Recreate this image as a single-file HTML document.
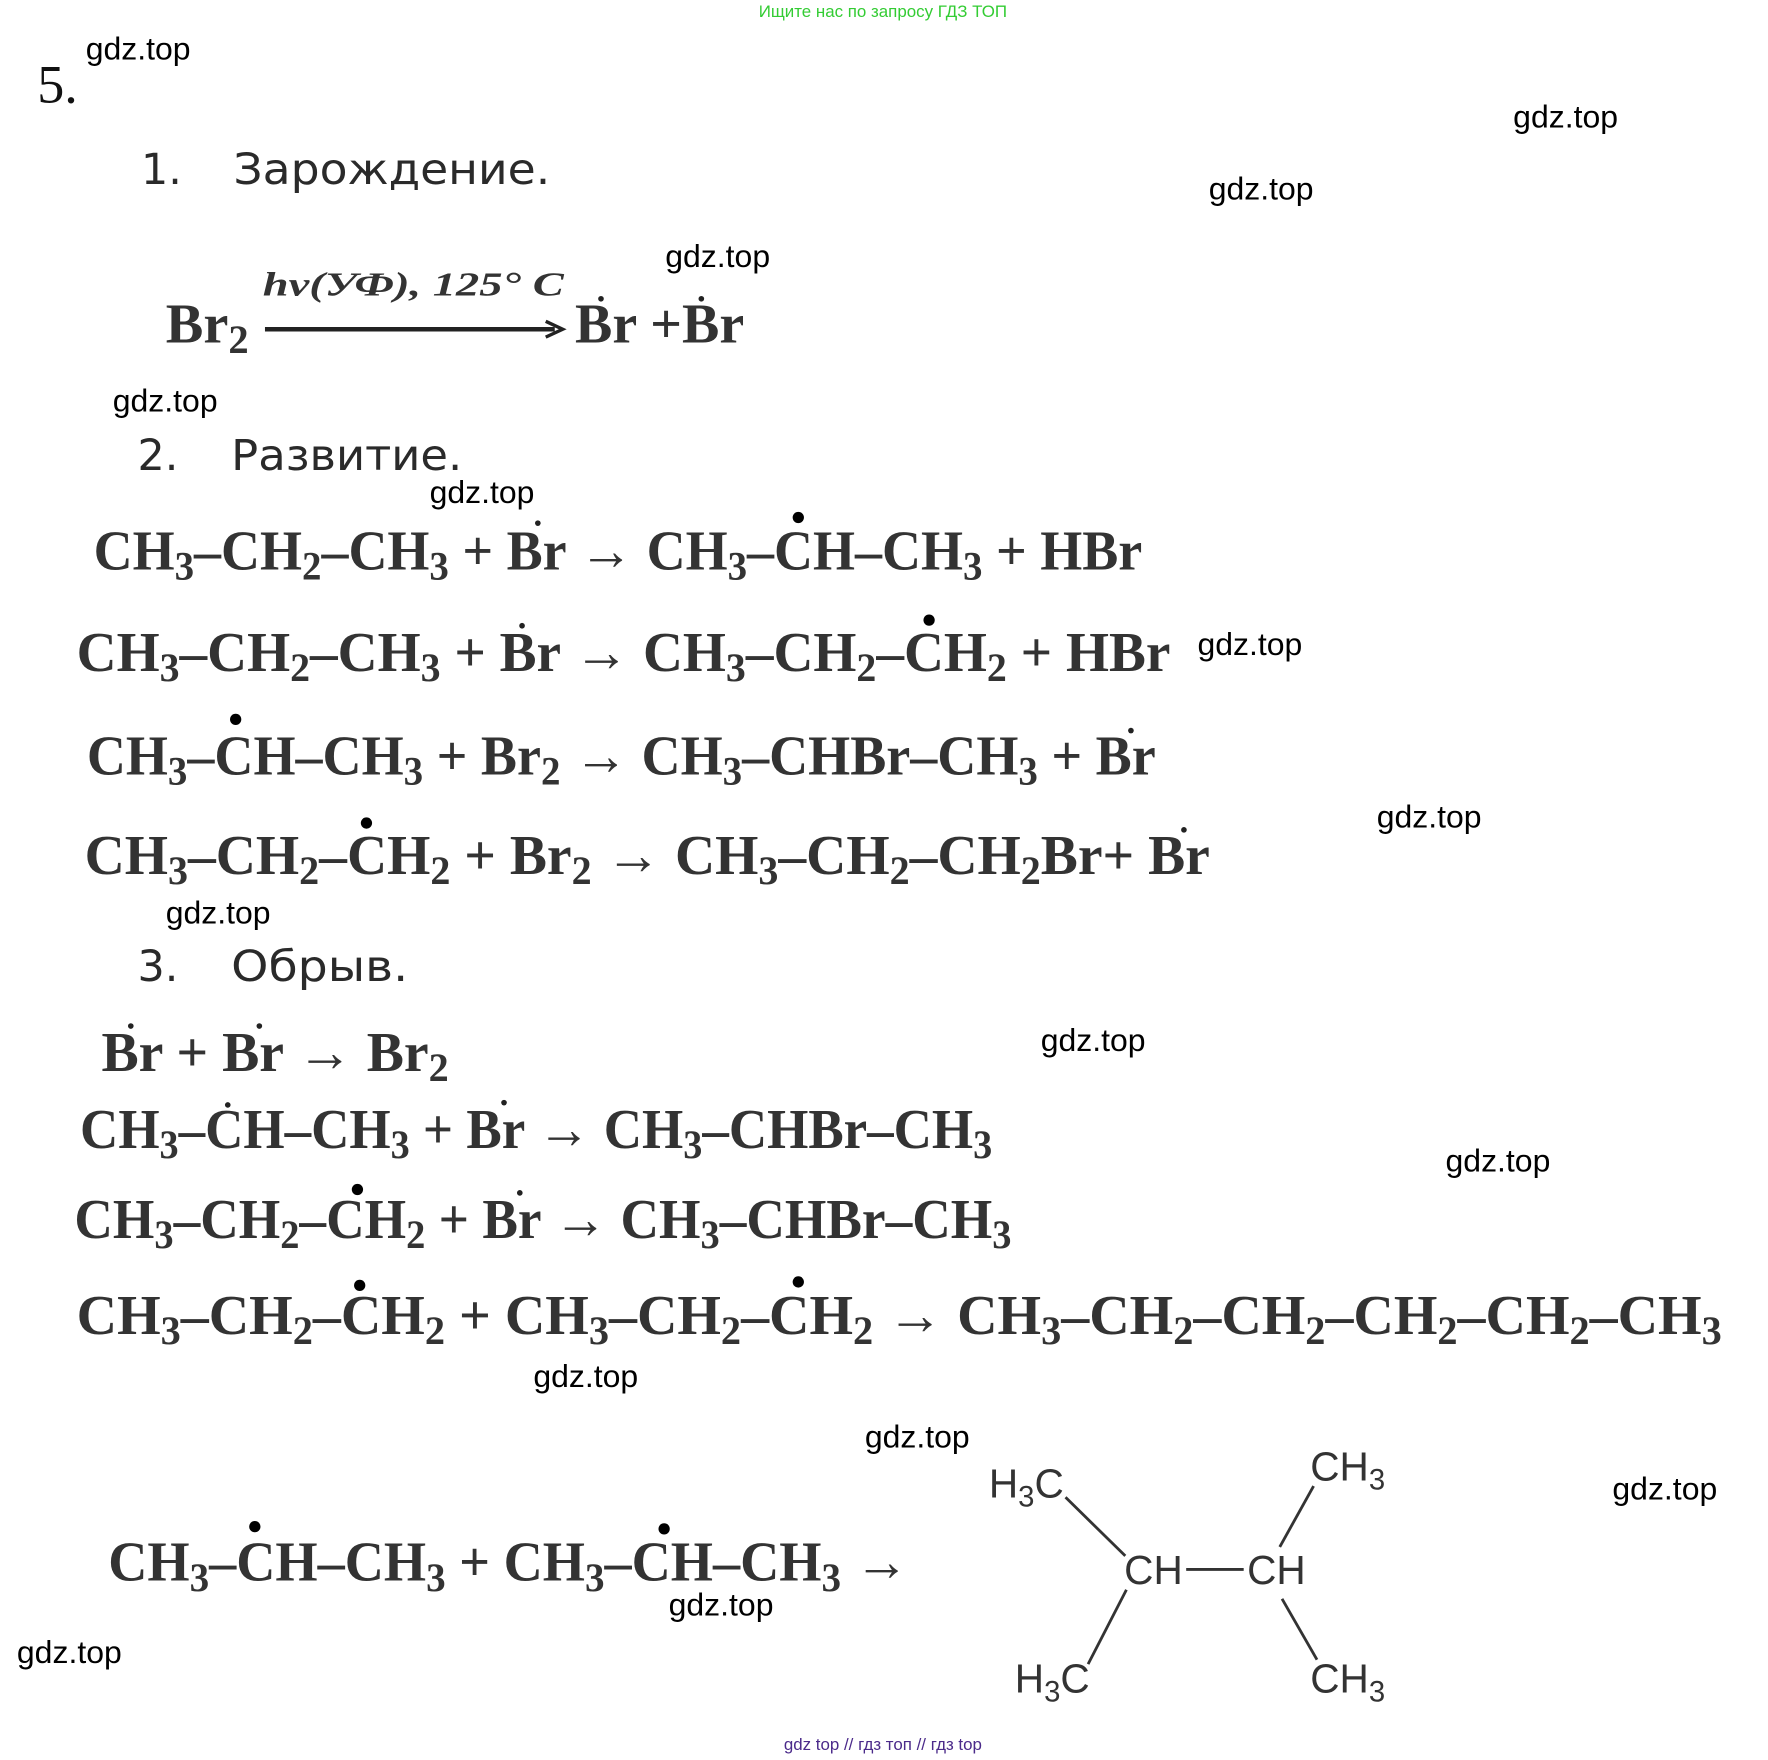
<!DOCTYPE html>
<html><head><meta charset="utf-8"><style>
html,body{margin:0;padding:0;background:#fff;}
svg{display:block;}
.f{font-family:"Liberation Serif",serif;font-size:50px;fill:#333;font-weight:bold;}
.g{font-family:"Liberation Sans",sans-serif;font-size:28px;fill:#000;}
.h{font-family:"DejaVu Sans","Liberation Sans",sans-serif;font-size:38px;fill:#2a2a2a;}
.s{font-family:"Liberation Sans",sans-serif;font-size:36px;fill:#333;}
</style></head><body>
<svg width="1768" height="1760" viewBox="0 0 1568 1561" preserveAspectRatio="none" xmlns="http://www.w3.org/2000/svg">
<text x="783" y="15" text-anchor="middle" font-family="Liberation Sans,sans-serif" font-size="15" fill="#33cc33">Ищите нас по запросу ГДЗ ТОП</text>
<text x="33" y="91" font-family="Liberation Serif,serif" font-size="48" fill="#111">5.</text>

<g class="g">
<text x="76" y="53" textLength="93" lengthAdjust="spacingAndGlyphs">gdz.top</text>
<text x="1342" y="113" textLength="93" lengthAdjust="spacingAndGlyphs">gdz.top</text>
<text x="1072" y="177" textLength="93" lengthAdjust="spacingAndGlyphs">gdz.top</text>
<text x="590" y="237" textLength="93" lengthAdjust="spacingAndGlyphs">gdz.top</text>
<text x="100" y="365" textLength="93" lengthAdjust="spacingAndGlyphs">gdz.top</text>
<text x="381" y="446" textLength="93" lengthAdjust="spacingAndGlyphs">gdz.top</text>
<text x="1062" y="581" textLength="93" lengthAdjust="spacingAndGlyphs">gdz.top</text>
<text x="1221" y="734" textLength="93" lengthAdjust="spacingAndGlyphs">gdz.top</text>
<text x="147" y="819" textLength="93" lengthAdjust="spacingAndGlyphs">gdz.top</text>
<text x="923" y="932" textLength="93" lengthAdjust="spacingAndGlyphs">gdz.top</text>
<text x="1282" y="1039" textLength="93" lengthAdjust="spacingAndGlyphs">gdz.top</text>
<text x="473" y="1230" textLength="93" lengthAdjust="spacingAndGlyphs">gdz.top</text>
<text x="767" y="1284" textLength="93" lengthAdjust="spacingAndGlyphs">gdz.top</text>
<text x="1430" y="1330" textLength="93" lengthAdjust="spacingAndGlyphs">gdz.top</text>
<text x="593" y="1433" textLength="93" lengthAdjust="spacingAndGlyphs">gdz.top</text>
<text x="15" y="1475" textLength="93" lengthAdjust="spacingAndGlyphs">gdz.top</text>
</g>

<text class="h" x="125" y="163">1.</text>
<text class="h" x="207" y="163" textLength="281" lengthAdjust="spacingAndGlyphs">Зарождение.</text>
<text class="h" x="122" y="417">2.</text>
<text class="h" x="205" y="417" textLength="205" lengthAdjust="spacingAndGlyphs">Развитие.</text>
<text class="h" x="122" y="870">3.</text>
<text class="h" x="205" y="870" textLength="157" lengthAdjust="spacingAndGlyphs">Обрыв.</text>

<!-- initiation -->
<text class="f" x="147" y="304">Br<tspan dy="9" font-size="36">2</tspan></text>
<text x="233" y="262" font-family="Liberation Serif,serif" font-style="italic" font-weight="bold" font-size="30" fill="#333" textLength="267" lengthAdjust="spacingAndGlyphs">hν(УФ), 125° C</text>
<line x1="235" y1="292" x2="492" y2="292" stroke="#222" stroke-width="4"/>
<path d="M484 285 L499 292 L484 299" fill="none" stroke="#222" stroke-width="3"/>
<text class="f" x="510" y="304" textLength="150" lengthAdjust="spacingAndGlyphs">Br +Br</text>
<circle cx="533" cy="265" r="2.5" fill="#222"/><circle cx="622" cy="265" r="2.5" fill="#222"/>

<!-- propagation -->
<text class="f" x="83" y="505" textLength="930" lengthAdjust="spacingAndGlyphs">CH<tspan dy="9" font-size="36">3</tspan><tspan dy="-9">–CH</tspan><tspan dy="9" font-size="36">2</tspan><tspan dy="-9">–CH</tspan><tspan dy="9" font-size="36">3</tspan><tspan dy="-9"> + Br → CH</tspan><tspan dy="9" font-size="36">3</tspan><tspan dy="-9">–CH–CH</tspan><tspan dy="9" font-size="36">3</tspan><tspan dy="-9"> + HBr</tspan></text>
<circle cx="708" cy="459" r="5" fill="#000"/><circle cx="477" cy="464" r="2.5" fill="#222"/>

<text class="f" x="68" y="595" textLength="970" lengthAdjust="spacingAndGlyphs">CH<tspan dy="9" font-size="36">3</tspan><tspan dy="-9">–CH</tspan><tspan dy="9" font-size="36">2</tspan><tspan dy="-9">–CH</tspan><tspan dy="9" font-size="36">3</tspan><tspan dy="-9"> + Br → CH</tspan><tspan dy="9" font-size="36">3</tspan><tspan dy="-9">–CH</tspan><tspan dy="9" font-size="36">2</tspan><tspan dy="-9">–CH</tspan><tspan dy="9" font-size="36">2</tspan><tspan dy="-9"> + HBr</tspan></text>
<circle cx="824" cy="550" r="5" fill="#000"/><circle cx="463" cy="555" r="2.5" fill="#222"/>

<text class="f" x="77" y="687" textLength="948" lengthAdjust="spacingAndGlyphs">CH<tspan dy="9" font-size="36">3</tspan><tspan dy="-9">–CH–CH</tspan><tspan dy="9" font-size="36">3</tspan><tspan dy="-9"> + Br</tspan><tspan dy="9" font-size="36">2</tspan><tspan dy="-9"> → CH</tspan><tspan dy="9" font-size="36">3</tspan><tspan dy="-9">–CHBr–CH</tspan><tspan dy="9" font-size="36">3</tspan><tspan dy="-9"> + Br</tspan></text>
<circle cx="209" cy="638" r="5" fill="#000"/><circle cx="1003" cy="648" r="2.5" fill="#222"/>

<text class="f" x="75" y="775" textLength="998" lengthAdjust="spacingAndGlyphs">CH<tspan dy="9" font-size="36">3</tspan><tspan dy="-9">–CH</tspan><tspan dy="9" font-size="36">2</tspan><tspan dy="-9">–CH</tspan><tspan dy="9" font-size="36">2</tspan><tspan dy="-9"> + Br</tspan><tspan dy="9" font-size="36">2</tspan><tspan dy="-9"> → CH</tspan><tspan dy="9" font-size="36">3</tspan><tspan dy="-9">–CH</tspan><tspan dy="9" font-size="36">2</tspan><tspan dy="-9">–CH</tspan><tspan dy="9" font-size="36">2</tspan><tspan dy="-9">Br+ Br</tspan></text>
<circle cx="325" cy="730" r="5" fill="#000"/><circle cx="1050" cy="736" r="2.5" fill="#222"/>

<!-- termination -->
<text class="f" x="90" y="950" textLength="308" lengthAdjust="spacingAndGlyphs">Br + Br → Br<tspan dy="9" font-size="36">2</tspan></text>
<circle cx="116" cy="910" r="2.5" fill="#222"/><circle cx="230" cy="910" r="2.5" fill="#222"/>

<text class="f" x="71" y="1018" textLength="809" lengthAdjust="spacingAndGlyphs">CH<tspan dy="9" font-size="36">3</tspan><tspan dy="-9">–CH–CH</tspan><tspan dy="9" font-size="36">3</tspan><tspan dy="-9"> + Br → CH</tspan><tspan dy="9" font-size="36">3</tspan><tspan dy="-9">–CHBr–CH</tspan><tspan dy="9" font-size="36">3</tspan></text>
<circle cx="202" cy="980" r="2.5" fill="#222"/><circle cx="447" cy="978" r="2.5" fill="#222"/>

<text class="f" x="66" y="1098" textLength="831" lengthAdjust="spacingAndGlyphs">CH<tspan dy="9" font-size="36">3</tspan><tspan dy="-9">–CH</tspan><tspan dy="9" font-size="36">2</tspan><tspan dy="-9">–CH</tspan><tspan dy="9" font-size="36">2</tspan><tspan dy="-9"> + Br → CH</tspan><tspan dy="9" font-size="36">3</tspan><tspan dy="-9">–CHBr–CH</tspan><tspan dy="9" font-size="36">3</tspan></text>
<circle cx="317" cy="1055" r="5" fill="#000"/><circle cx="461" cy="1058" r="2.5" fill="#222"/>

<text class="f" x="68" y="1183" textLength="1459" lengthAdjust="spacingAndGlyphs">CH<tspan dy="9" font-size="36">3</tspan><tspan dy="-9">–CH</tspan><tspan dy="9" font-size="36">2</tspan><tspan dy="-9">–CH</tspan><tspan dy="9" font-size="36">2</tspan><tspan dy="-9"> +  CH</tspan><tspan dy="9" font-size="36">3</tspan><tspan dy="-9">–CH</tspan><tspan dy="9" font-size="36">2</tspan><tspan dy="-9">–CH</tspan><tspan dy="9" font-size="36">2</tspan><tspan dy="-9">  → CH</tspan><tspan dy="9" font-size="36">3</tspan><tspan dy="-9">–CH</tspan><tspan dy="9" font-size="36">2</tspan><tspan dy="-9">–CH</tspan><tspan dy="9" font-size="36">2</tspan><tspan dy="-9">–CH</tspan><tspan dy="9" font-size="36">2</tspan><tspan dy="-9">–CH</tspan><tspan dy="9" font-size="36">2</tspan><tspan dy="-9">–CH</tspan><tspan dy="9" font-size="36">3</tspan></text>
<circle cx="319" cy="1140" r="5" fill="#000"/><circle cx="708" cy="1137" r="5" fill="#000"/>

<text class="f" x="96" y="1402" textLength="710" lengthAdjust="spacingAndGlyphs">CH<tspan dy="9" font-size="36">3</tspan><tspan dy="-9">–CH–CH</tspan><tspan dy="9" font-size="36">3</tspan><tspan dy="-9"> +  CH</tspan><tspan dy="9" font-size="36">3</tspan><tspan dy="-9">–CH–CH</tspan><tspan dy="9" font-size="36">3</tspan><tspan dy="-9"> →</tspan></text>
<circle cx="226" cy="1354" r="5" fill="#000"/><circle cx="589" cy="1356" r="5" fill="#000"/>

<!-- structure -->
<g class="s">
<text x="877" y="1328">H<tspan dy="8" font-size="26">3</tspan><tspan dy="-8">C</tspan></text>
<text x="1162" y="1313">CH<tspan dy="8" font-size="26">3</tspan></text>
<text x="997" y="1405">CH</text>
<text x="1106" y="1405">CH</text>
<text x="900" y="1501">H<tspan dy="8" font-size="26">3</tspan><tspan dy="-8">C</tspan></text>
<text x="1162" y="1501">CH<tspan dy="8" font-size="26">3</tspan></text>
</g>
<g stroke="#333" stroke-width="2.5">
<line x1="1052" y1="1392" x2="1103" y2="1392"/>
<line x1="945" y1="1328" x2="998" y2="1380"/>
<line x1="1165" y1="1318" x2="1135" y2="1372"/>
<line x1="999" y1="1410" x2="965" y2="1476"/>
<line x1="1137" y1="1418" x2="1168" y2="1472"/>
</g>

<text x="783" y="1552" text-anchor="middle" font-family="Liberation Sans,sans-serif" font-size="15" fill="#4b2a8a">gdz top  //  гдз топ  //  гдз top</text>
</svg>
</body></html>
